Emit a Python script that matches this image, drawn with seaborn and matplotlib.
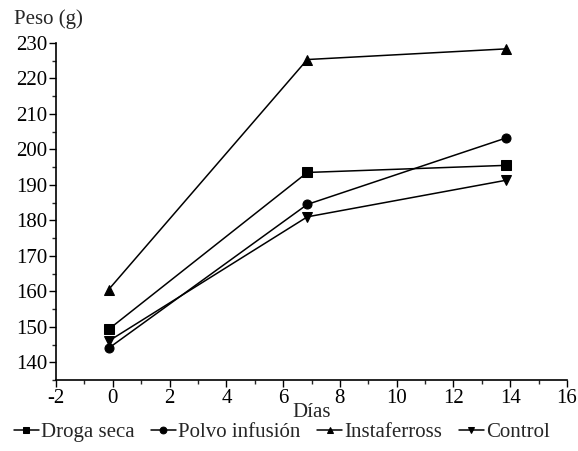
import matplotlib
matplotlib.use("Agg")
import matplotlib.pyplot as plt
import pandas as pd
import seaborn as sns
from matplotlib.ticker import MultipleLocator

dias = [-0.15, 6.85, 13.85]
droga_seca = [149.3, 193.5, 195.5]
polvo_infusion = [144.0, 184.5, 203.2]
instaferross = [160.5, 225.3, 228.3]
control = [146.0, 181.0, 191.3]

series = {
    "Droga seca": droga_seca,
    "Polvo infusión": polvo_infusion,
    "Instaferross": instaferross,
    "Control": control,
}
markers = {"Droga seca": "s", "Polvo infusión": "o", "Instaferross": "^", "Control": "v"}

df = pd.DataFrame(
    [(d, v, name) for name, vals in series.items() for d, v in zip(dias, vals)],
    columns=["Días", "Peso", "Tratamiento"],
)

sns.set_style("ticks")
plt.rcParams["font.family"] = ["Liberation Serif", "DejaVu Serif"]
plt.rcParams["font.size"] = 15
plt.rcParams["axes.unicode_minus"] = False

fig = plt.figure(figsize=(5.78, 4.51), dpi=100)
ax = fig.add_axes([0.097, 0.157, 0.884, 0.748])

sns.lineplot(
    data=df, x="Días", y="Peso", hue="Tratamiento", style="Tratamiento",
    palette=["black"] * 4, markers=markers, dashes=False, markersize=6.5,
    linewidth=1.1, markeredgecolor="black", ax=ax,
)

ax.set_xlim(-2, 16)
ax.set_ylim(135, 230)
ax.xaxis.set_major_locator(MultipleLocator(2))
ax.xaxis.set_minor_locator(MultipleLocator(1))
ax.yaxis.set_minor_locator(MultipleLocator(5))
ax.set_yticks(range(140, 231, 10))
ax.tick_params(axis="both", which="major", length=5, width=1, labelsize=15, pad=1, colors="black")
ax.tick_params(axis="both", which="minor", length=3, width=1)
sns.despine(ax=ax)
for s in ("left", "bottom"):
    ax.spines[s].set_linewidth(1.2)
    ax.spines[s].set_color("black")

ax.set_xlabel("Días", fontsize=15, labelpad=-3)
ax.set_ylabel("")
fig.text(0.024, 0.958, "Peso (g)", fontsize=15, ha="left", va="center")

handles, labels = ax.get_legend_handles_labels()
ax.legend(
    handles, labels, loc="center", bbox_to_anchor=(0.487, 0.042), bbox_transform=fig.transFigure,
    ncol=4, frameon=False, handlelength=1.2, handletextpad=0.1, columnspacing=0.8,
    fontsize=15, borderaxespad=0, markerscale=0.75,
)

fig.savefig("out.png", dpi=100)
